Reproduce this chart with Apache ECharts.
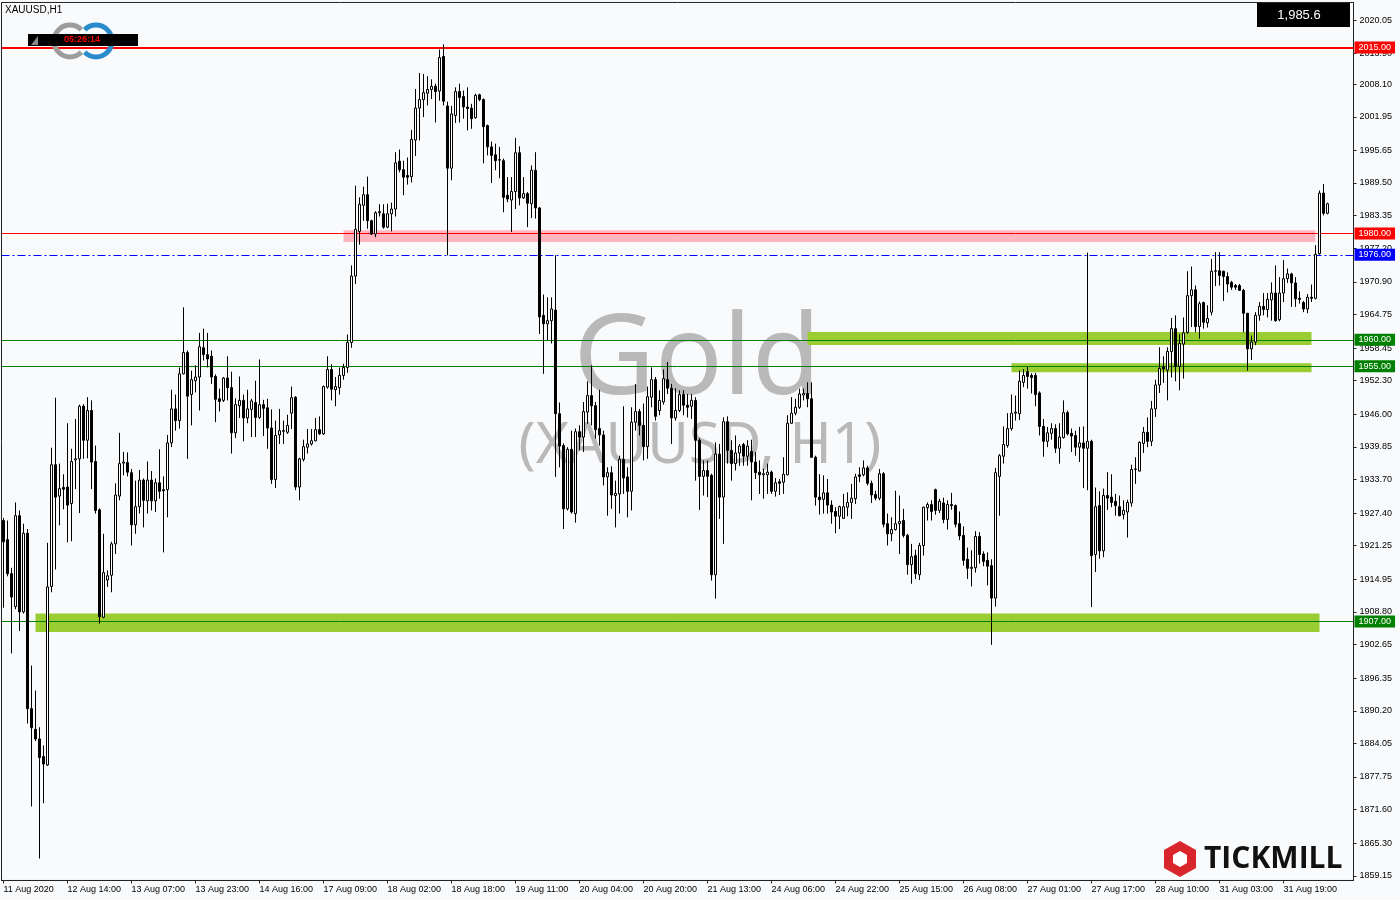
<!DOCTYPE html>
<html><head><meta charset="utf-8">
<script src="https://cdn.jsdelivr.net/npm/echarts@6/dist/echarts.min.js"></script>
<style>html,body{margin:0;padding:0;background:#f9fafc}#chart{width:1400px;height:900px}</style>
</head><body><div id="chart"></div>
<script>
// ---- tick labels ----
const tickLabels = ['11 Aug 2020','12 Aug 14:00','13 Aug 07:00','13 Aug 23:00','14 Aug 16:00','17 Aug 09:00','18 Aug 02:00','18 Aug 18:00','19 Aug 11:00','20 Aug 04:00','20 Aug 20:00','21 Aug 13:00','24 Aug 06:00','24 Aug 22:00','25 Aug 15:00','26 Aug 08:00','27 Aug 01:00','27 Aug 17:00','28 Aug 10:00','31 Aug 03:00','31 Aug 19:00'];
const yTicks = [2020.05,2013.90,2008.10,2001.95,1995.65,1989.50,1983.35,1977.20,1970.90,1964.75,1958.45,1952.30,1946.00,1939.85,1933.70,1927.40,1921.25,1914.95,1908.80,1902.65,1896.35,1890.20,1884.05,1877.75,1871.60,1865.30,1859.15];

// ---- XAUUSD H1 candles ----
const opens = [
1926.0,1922.4,1916.0,1909.8,1926.9,1908.8,1923.6,1890.6,1886.7,1884.9,
1881.6,1880.0,1913.6,1936.5,1930.6,1932.2,1932.3,1929.2,1937.4,1937.6,
1947.5,1941.1,1946.7,1937.1,1928.0,1907.8,1914.8,1915.7,1921.6,1930.6,
1936.8,1936.9,1935.0,1925.2,1928.6,1933.6,1929.7,1933.6,1929.7,1933.1,
1931.8,1931.8,1940.6,1947.0,1944.8,1953.6,1957.6,1949.7,1952.3,1953.0,
1958.5,1957.2,1956.9,1953.1,1948.9,1948.6,1952.8,1951.0,1942.5,1947.6,
1948.6,1945.3,1946.9,1948.2,1945.4,1947.8,1947.2,1943.4,1933.7,1942.1,
1942.9,1942.6,1946.2,1949.2,1932.3,1937.5,1939.8,1940.4,1941.0,1943.1,
1942.3,1951.1,1954.4,1950.6,1951.0,1953.3,1954.8,1959.5,1972.0,1980.4,
1985.3,1987.3,1982.4,1979.9,1983.9,1983.7,1981.2,1983.7,1984.6,1993.6,
1992.0,1990.9,1990.7,1997.6,2003.6,2005.2,2006.4,2007.1,2007.7,2006.8,
2013.3,2004.0,1992.3,2002.2,2006.7,2005.8,2003.8,2003.6,2001.8,2006.1,
2005.2,2000.3,1996.3,1994.8,1993.8,1993.7,1987.2,1986.3,1987.9,1995.2,
1986.7,1987.5,1985.6,1991.9,1984.8,1964.6,1963.0,1963.6,1965.6,1946.1,
1940.1,1928.2,1939.4,1927.3,1942.7,1941.7,1946.4,1949.5,1947.6,1943.3,
1942.1,1934.2,1935.0,1930.7,1931.0,1937.5,1934.2,1931.5,1944.5,1946.5,
1943.9,1939.9,1949.2,1952.5,1946.7,1948.3,1952.5,1950.9,1945.3,1946.7,
1949.7,1947.7,1947.5,1948.6,1941.1,1934.3,1935.4,1934.5,1915.8,1938.5,
1930.4,1944.6,1939.2,1936.7,1938.7,1940.3,1938.1,1939.0,1937.0,1935.1,
1934.6,1934.6,1935.1,1931.5,1933.3,1933.2,1934.6,1944.3,1946.2,1947.3,
1949.6,1949.9,1948.9,1937.9,1930.4,1930.0,1931.2,1928.9,1927.7,1926.8,
1926.4,1928.5,1929.4,1930.1,1934.6,1934.6,1935.9,1933.0,1930.9,1930.2,
1934.8,1925.4,1923.5,1924.3,1925.4,1926.0,1923.2,1917.7,1919.4,1915.8,
1921.3,1928.4,1929.0,1931.8,1927.9,1929.3,1926.2,1929.0,1928.8,1925.4,
1923.2,1918.7,1917.0,1917.1,1923.0,1919.7,1918.5,1917.5,1911.4,1934.3,
1938.1,1940.1,1943.3,1946.2,1946.1,1952.0,1954.0,1953.3,1953.3,1950.0,
1943.7,1940.9,1942.4,1943.3,1939.6,1941.6,1946.3,1942.4,1942.0,1939.8,
1940.6,1939.6,1940.9,1919.6,1928.8,1920.3,1930.7,1930.4,1929.6,1928.6,
1927.1,1927.6,1929.3,1935.6,1935.3,1940.5,1942.6,1940.9,1947.0,1951.5,
1954.9,1954.3,1957.8,1962.1,1955.0,1959.2,1961.4,1968.3,1969.4,1962.5,
1967.0,1963.2,1965.2,1972.9,1973.0,1972.9,1971.9,1970.8,1970.2,1970.2,
1969.3,1965.0,1958.3,1959.6,1964.6,1966.3,1965.7,1967.5,1968.8,1963.8,
1968.8,1971.5,1972.4,1970.7,1967.8,1967.0,1965.8,1968.0,1967.8,1976.2,
1987.6,1983.8];
const highs = [
1926.5,1926.0,1917.1,1929.4,1927.9,1925.4,1924.4,1898.7,1894.0,1887.1,
1883.7,1921.8,1939.7,1949.1,1936.7,1934.7,1944.3,1939.5,1945.1,1947.8,
1947.9,1949.2,1948.6,1940.1,1928.3,1923.5,1916.6,1922.0,1933.0,1942.5,
1938.9,1938.8,1935.7,1933.5,1935.5,1933.9,1937.1,1935.3,1933.9,1939.4,
1934.3,1942.1,1950.6,1949.7,1954.8,1966.1,1958.0,1954.2,1955.2,1961.3,
1962.1,1961.3,1958.0,1953.5,1950.8,1953.0,1956.9,1954.0,1949.0,1953.1,
1949.7,1950.6,1948.9,1952.3,1956.3,1948.7,1948.9,1946.9,1944.8,1947.0,
1944.8,1945.9,1951.2,1949.4,1937.8,1941.2,1943.2,1943.2,1945.3,1945.6,
1951.4,1956.9,1955.4,1953.0,1954.8,1955.5,1961.0,1974.0,1989.0,1986.8,
1988.8,1990.7,1982.6,1984.2,1985.5,1985.5,1985.6,1985.8,1995.3,1995.8,
1993.7,1994.3,1999.5,2007.2,2010.2,2010.0,2009.6,2009.0,2008.2,2014.6,
2015.6,2004.8,2004.0,2007.5,2008.2,2006.9,2007.5,2004.4,2006.3,2006.3,
2005.4,2000.5,1997.3,1996.9,1996.3,1994.1,1990.6,1990.6,1998.0,1996.4,
1990.6,1987.8,1992.8,1995.3,1985.0,1968.5,1968.0,1968.0,1975.9,1948.2,
1940.5,1939.8,1942.9,1943.3,1943.9,1948.3,1952.2,1955.2,1948.3,1950.6,
1942.9,1936.0,1936.2,1933.5,1938.2,1947.5,1936.0,1947.3,1951.7,1947.0,
1948.0,1951.2,1954.8,1953.0,1950.5,1954.4,1955.8,1951.7,1950.9,1950.5,
1950.5,1949.8,1949.8,1949.2,1941.5,1937.3,1937.3,1934.8,1940.7,1940.4,
1945.4,1945.6,1941.1,1942.0,1940.4,1940.6,1941.1,1941.2,1938.9,1937.3,
1935.7,1936.7,1935.4,1934.0,1933.8,1937.9,1945.8,1949.2,1948.9,1950.8,
1950.8,1952.0,1952.0,1938.2,1934.7,1934.5,1933.8,1929.8,1928.5,1928.8,
1931.0,1931.3,1932.9,1934.8,1936.0,1937.3,1936.3,1933.5,1931.6,1935.7,
1935.1,1927.3,1926.6,1931.6,1930.7,1928.2,1923.5,1921.6,1920.5,1921.8,
1928.6,1929.4,1929.8,1932.0,1930.1,1930.3,1929.8,1931.2,1929.0,1927.7,
1924.9,1920.9,1920.4,1924.0,1923.8,1920.2,1920.0,1918.7,1935.9,1938.5,
1943.7,1946.2,1949.7,1949.5,1954.2,1954.5,1954.9,1953.7,1953.8,1950.3,
1945.1,1943.6,1944.3,1944.1,1944.3,1948.6,1946.7,1943.3,1942.9,1943.6,
1943.7,1976.4,1941.2,1932.2,1931.5,1932.0,1935.1,1934.7,1931.0,1930.7,
1929.8,1929.9,1936.5,1937.9,1940.9,1943.6,1945.4,1948.5,1952.5,1958.6,
1956.9,1958.6,1964.1,1964.6,1961.1,1964.2,1972.9,1973.8,1970.2,1967.2,
1967.2,1966.5,1975.2,1976.5,1976.5,1973.0,1972.7,1971.1,1970.5,1970.5,
1969.6,1965.0,1960.8,1965.2,1967.1,1968.8,1968.8,1970.8,1974.0,1971.8,
1975.0,1973.4,1972.6,1971.8,1969.1,1967.3,1968.6,1970.4,1977.8,1988.1,
1989.3,1985.8];
const lows = [
1909.6,1915.5,1901.0,1909.3,1905.2,1908.5,1887.8,1872.2,1884.5,1862.4,
1872.8,1879.8,1912.5,1916.8,1925.1,1928.1,1921.9,1922.1,1931.9,1927.4,
1937.6,1937.7,1931.9,1927.3,1906.6,1907.6,1913.5,1912.5,1919.7,1929.8,
1934.5,1934.3,1921.3,1923.5,1927.3,1924.7,1927.3,1927.9,1927.6,1930.1,
1920.0,1926.6,1939.8,1942.9,1943.3,1953.5,1937.6,1943.9,1950.1,1946.7,
1956.1,1954.8,1951.7,1944.5,1946.5,1948.3,1948.6,1938.6,1941.5,1945.3,
1940.9,1944.3,1941.7,1941.7,1945.1,1941.9,1939.5,1932.9,1932.1,1940.4,
1940.4,1942.3,1943.2,1931.7,1929.8,1937.1,1938.6,1940.1,1940.9,1942.1,
1942.1,1950.8,1948.6,1947.5,1949.7,1952.5,1953.8,1958.5,1970.5,1977.9,
1982.4,1980.9,1979.7,1979.3,1983.2,1980.9,1981.0,1980.4,1983.2,1991.5,
1987.2,1989.2,1989.6,1994.6,1997.5,2001.9,2004.1,2005.3,2000.9,2005.0,
2004.1,1975.9,1990.0,2000.8,2000.9,2001.6,1999.4,1999.7,2001.6,2004.9,
1993.2,1994.7,1989.5,1991.9,1990.4,1984.0,1985.9,1980.3,1984.6,1985.3,
1986.5,1981.2,1982.9,1982.8,1961.1,1953.6,1959.9,1959.3,1934.2,1936.0,
1924.4,1927.9,1927.3,1925.6,1939.2,1938.9,1944.2,1943.9,1941.4,1940.1,
1932.6,1926.9,1928.2,1924.7,1927.3,1931.0,1926.6,1927.9,1942.9,1942.0,
1937.3,1937.6,1947.3,1944.8,1945.8,1947.8,1949.8,1940.4,1944.8,1946.4,
1945.8,1945.4,1945.1,1933.5,1928.0,1930.7,1930.4,1914.7,1911.3,1926.3,
1921.6,1936.7,1933.5,1935.4,1936.3,1936.3,1936.3,1929.8,1933.8,1931.0,
1930.1,1931.0,1931.0,1930.5,1930.8,1931.0,1934.5,1944.2,1945.8,1947.0,
1948.6,1947.3,1937.8,1928.8,1927.1,1927.3,1927.3,1925.4,1923.6,1924.4,
1926.3,1926.8,1926.3,1929.1,1933.2,1934.3,1932.6,1929.3,1929.8,1929.8,
1924.7,1921.3,1922.1,1924.1,1919.7,1922.8,1915.8,1914.1,1915.0,1914.8,
1919.4,1926.0,1926.0,1927.1,1927.4,1925.5,1924.3,1928.0,1924.7,1922.3,
1917.5,1915.0,1913.6,1916.2,1917.9,1917.4,1913.8,1902.6,1909.8,1926.9,
1936.7,1939.7,1942.9,1944.8,1944.9,1951.1,1950.8,1949.9,1947.5,1942.0,
1938.0,1939.8,1941.2,1938.7,1936.7,1941.4,1942.0,1938.9,1938.2,1937.0,
1932.1,1931.7,1909.7,1916.3,1918.8,1919.1,1928.0,1928.5,1926.9,1926.8,
1926.2,1922.8,1928.6,1932.9,1935.2,1938.7,1939.8,1940.0,1945.5,1950.0,
1951.9,1948.6,1952.9,1952.2,1950.5,1952.7,1961.1,1962.4,1961.4,1960.2,
1962.1,1962.3,1964.6,1970.1,1970.2,1967.3,1968.9,1969.4,1969.4,1969.3,
1961.4,1954.2,1956.2,1959.0,1963.6,1964.6,1964.2,1963.6,1963.4,1963.5,
1967.1,1970.7,1966.2,1966.2,1966.8,1965.2,1965.0,1967.1,1967.6,1976.0,
1983.4,1983.6];
const closes = [
1922.0,1916.0,1911.6,1926.9,1908.8,1923.6,1890.6,1887.0,1884.9,1881.4,
1880.2,1913.5,1936.5,1930.4,1932.0,1931.9,1928.9,1937.1,1937.6,1947.5,
1941.1,1946.7,1937.0,1927.9,1907.9,1916.2,1915.6,1921.6,1930.8,1936.7,
1937.0,1935.1,1925.2,1928.6,1933.6,1929.8,1933.6,1929.7,1933.1,1931.5,
1931.6,1940.6,1947.0,1944.8,1953.6,1957.6,1949.4,1952.5,1953.0,1958.7,
1957.2,1956.4,1953.0,1948.8,1948.4,1952.8,1951.0,1942.5,1947.8,1948.6,
1945.3,1947.0,1948.5,1945.4,1947.8,1947.1,1943.4,1933.7,1942.0,1942.9,
1942.8,1943.9,1949.1,1932.3,1937.6,1939.9,1940.4,1941.0,1943.1,1942.3,
1951.2,1954.4,1950.7,1951.2,1953.3,1954.8,1959.5,1972.0,1980.8,1985.5,
1987.3,1982.4,1979.9,1983.9,1984.1,1981.2,1983.7,1984.6,1993.3,1992.0,
1990.6,1990.6,1997.7,2003.6,2005.2,2006.5,2007.1,2007.7,2006.7,2013.1,
2004.9,1992.3,2002.5,2006.7,2005.6,2003.8,2003.5,2001.6,2006.0,2005.2,
2000.1,1996.3,1994.7,1993.7,1993.9,1986.8,1986.5,1987.9,1995.2,1986.7,
1987.5,1985.7,1991.9,1984.8,1964.3,1963.0,1963.6,1965.8,1946.1,1940.0,
1928.2,1939.4,1927.6,1942.7,1941.7,1946.5,1949.5,1947.6,1943.1,1942.1,
1934.2,1935.0,1930.8,1931.1,1937.5,1934.0,1931.5,1944.5,1946.5,1943.9,
1939.9,1949.3,1952.5,1945.6,1948.6,1952.7,1950.9,1945.3,1946.7,1949.7,
1947.7,1947.3,1948.6,1941.1,1934.3,1935.4,1934.3,1915.8,1938.5,1930.4,
1944.6,1939.2,1936.7,1938.7,1940.0,1938.1,1940.0,1937.0,1935.0,1934.6,
1934.8,1935.1,1931.5,1933.1,1933.0,1934.7,1944.3,1946.2,1947.3,1949.8,
1949.9,1948.9,1937.9,1930.4,1929.9,1931.2,1928.9,1927.6,1926.8,1928.6,
1928.6,1929.4,1930.2,1934.2,1934.3,1935.9,1933.0,1930.8,1930.2,1934.8,
1925.3,1923.5,1924.3,1925.4,1925.8,1923.2,1917.7,1919.2,1916.0,1921.3,
1928.5,1929.0,1927.7,1927.9,1929.6,1926.2,1929.0,1928.8,1925.3,1923.1,
1918.5,1917.0,1917.2,1923.0,1919.6,1918.3,1917.4,1911.4,1935.0,1938.2,
1940.3,1943.3,1946.2,1946.4,1952.2,1953.3,1953.1,1952.9,1949.7,1943.7,
1940.9,1942.5,1943.3,1939.6,1941.7,1946.3,1942.3,1941.9,1939.8,1940.6,
1939.6,1940.9,1919.4,1928.6,1920.3,1930.7,1930.2,1929.4,1928.8,1926.9,
1927.9,1929.4,1935.6,1935.7,1940.7,1942.6,1940.9,1947.0,1951.5,1954.6,
1954.5,1957.8,1962.1,1955.0,1959.3,1961.3,1968.3,1969.4,1962.5,1966.8,
1963.3,1964.0,1972.9,1973.0,1972.1,1971.9,1970.5,1969.9,1969.9,1969.3,
1965.0,1958.3,1959.6,1964.6,1966.3,1965.7,1967.6,1968.8,1963.6,1968.8,
1971.5,1972.4,1970.7,1967.7,1967.6,1965.8,1968.0,1967.8,1976.1,1987.6,
1983.8,1985.6];

// ---- horizontal levels and zones ----
const levelValues = [2015, 1980, 1976, 1960, 1955, 1907];
const levelColors = ['#ff0000', '#ff0000', '#0000ff', '#008000', '#008000', '#008000'];
// zones: [startBar, endBar, lowPrice, highPrice]
const pinkZone = [85, 328, 1978.4, 1980.6];
const greenZones = [[201, 327, 1959.0, 1961.45], [252, 327, 1953.9, 1955.6], [8, 329, 1905.0, 1908.5]];
const lastPrice = '1,985.6';
const timerText = '05:26:14';

const TOTAL_SLOTS = 338;
const categories = [];
for (let i = 0; i < TOTAL_SLOTS; i++) {
  categories.push(i % 16 === 0 && tickLabels[i / 16] ? tickLabels[i / 16] : 'b' + i);
}
const ohlc = opens.map((o, i) => [o, closes[i], lows[i], highs[i]]);
const FONT = '"Liberation Sans", Arial, sans-serif';

const lineData = levelValues.map((v, i) => ({
  yAxis: v,
  lineStyle: {
    color: levelColors[i],
    width: v === 2015 ? 2 : 1,
    type: v === 1976 ? [8, 3, 2, 3] : 'solid'
  },
  label: {
    show: true, position: 'end', distance: 1,
    formatter: () => v.toFixed(2),
    color: '#ffffff', backgroundColor: levelColors[i],
    fontSize: 9, fontFamily: FONT, padding: [1, 4, 1, 4], lineHeight: 10
  }
}));
const areaData = [
  [{ xAxis: categories[pinkZone[0]], yAxis: pinkZone[3], itemStyle: { color: '#ffb6c1' } },
   { xAxis: categories[pinkZone[1]], yAxis: pinkZone[2] }]
].concat(greenZones.map(z => [
  { xAxis: categories[z[0]], yAxis: z[3], itemStyle: { color: '#9acd32' } },
  { xAxis: categories[z[1]], yAxis: z[2] }
]));

const showTick = (idx) => idx % 16 === 0 && idx / 16 < tickLabels.length;

const chart = echarts.init(document.getElementById('chart'), null, { renderer: 'canvas' });
chart.setOption({
  animation: false,
  backgroundColor: '#f9fafc',
  grid: { left: 1.5, top: 2.47, width: 1352, height: 878, show: true, borderColor: '#222', borderWidth: 1, backgroundColor: 'transparent' },
  xAxis: {
    type: 'category', data: categories, boundaryGap: true,
    axisLine: { show: true, lineStyle: { color: '#222', width: 1 } },
    axisTick: { show: true, interval: showTick, alignWithLabel: true, length: 3, lineStyle: { color: '#222' } },
    axisLabel: { interval: showTick, align: 'left', margin: 5, fontSize: 9, fontFamily: FONT, color: '#000' },
    splitLine: { show: false }
  },
  yAxis: {
    type: 'value', position: 'right', min: 1858.27, max: 2023.47, scale: true,
    axisLine: { show: true, lineStyle: { color: '#222' } },
    axisTick: { show: true, length: 3, customValues: yTicks, lineStyle: { color: '#222' } },
    axisLabel: { customValues: yTicks, margin: 6, fontSize: 9, fontFamily: FONT, color: '#000', formatter: v => v.toFixed(2) },
    splitLine: { show: false }
  },
  graphic: [
    { type: 'text', z: 0, style: { x: 697, y: 362, text: 'Gold', fill: 'rgba(150,150,150,0.65)', font: '112px "Noto Sans", sans-serif', textAlign: 'center', textVerticalAlign: 'middle' } },
    { type: 'text', z: 0, style: { x: 700, y: 447, text: '(XAUUSD, H1)', fill: 'rgba(150,150,150,0.65)', font: '57px "Noto Sans", sans-serif', textAlign: 'center', textVerticalAlign: 'middle' } },
    { type: 'text', z: 10, style: { x: 5, y: 10, text: 'XAUUSD,H1', fill: '#000', font: '10px ' + FONT, textVerticalAlign: 'middle' } },
    { type: 'arc', z: 10, shape: { cx: 70, cy: 41, r: 16, startAngle: Math.PI * 0.25, endAngle: Math.PI * 1.75 }, style: { stroke: '#9c9c9c', lineWidth: 5, fill: null } },
    { type: 'arc', z: 10, shape: { cx: 96, cy: 41, r: 16, startAngle: Math.PI * 1.25, endAngle: Math.PI * 0.75 }, style: { stroke: '#2b8ccc', lineWidth: 5, fill: null } },
    { type: 'rect', z: 11, shape: { x: 28, y: 34, width: 110, height: 12 }, style: { fill: '#000' } },
    { type: 'polygon', z: 12, shape: { points: [[38, 36], [38, 45], [31, 45]] }, style: { fill: '#888' } },
    { type: 'text', z: 12, style: { x: 82, y: 40, text: timerText, fill: '#ff0000', font: 'bold 9px ' + FONT, textAlign: 'center', textVerticalAlign: 'middle' } },
    { type: 'rect', z: 10, shape: { x: 1257, y: 3, width: 93, height: 24 }, style: { fill: '#000' } },
    { type: 'text', z: 11, style: { x: 1299, y: 15, text: lastPrice, fill: '#fff', font: '13px ' + FONT, textAlign: 'center', textVerticalAlign: 'middle' } },
    { type: 'polygon', z: 10, shape: { points: [[1180, 841], [1196, 850], [1196, 868], [1180, 877], [1164, 868], [1164, 850]] }, style: { fill: '#d9262c' } },
    { type: 'polygon', z: 11, shape: { points: [[1180, 851], [1187, 855], [1187, 863], [1180, 867], [1173, 863], [1173, 855]] }, style: { fill: '#ffffff' } },
    { type: 'text', z: 10, style: { x: 1204, y: 859, text: 'TICKMILL', fill: '#111', font: 'bold 30px "Open Sans", sans-serif', textVerticalAlign: 'middle' } }
  ],
  series: [{
    type: 'candlestick', data: ohlc, barWidth: 2, z: 3,
    itemStyle: { color: '#ffffff', color0: '#000000', borderColor: '#000000', borderColor0: '#000000', borderWidth: 1 },
    markArea: { silent: true, z: 1, data: areaData },
    markLine: { silent: true, z: 2, symbol: ['none', 'none'], animation: false, data: lineData }
  }]
});
</script>
</body></html>
